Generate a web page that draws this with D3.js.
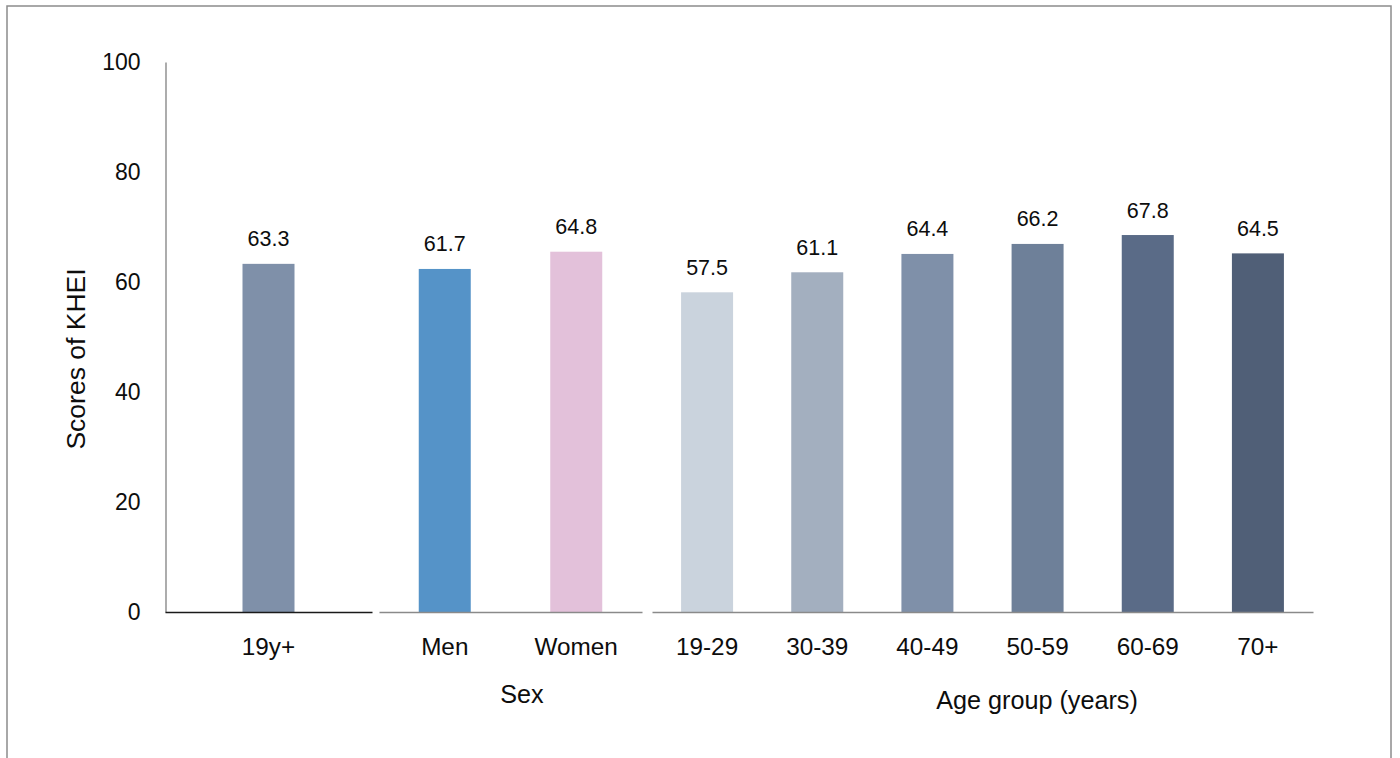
<!DOCTYPE html>
<html>
<head>
<meta charset="utf-8">
<script src="https://cdn.jsdelivr.net/npm/d3@7"></script>
<style>
  html, body { margin: 0; padding: 0; background: #fff; }
  svg { display: block; font-family: "Liberation Sans", Arial, sans-serif; }
</style>
</head>
<body>
<svg id="chart" width="1400" height="758"></svg>
<script>
// KHEI scores by population group
const overallCategories = ["19y+"];
const overallScores = [63.3];
const overallColors = ["#7f90a9"];

const sexCategories = ["Men", "Women"];
const sexScores = [61.7, 64.8];
const sexColors = ["#5593c8", "#e3c1da"];

const ageCategories = ["19-29", "30-39", "40-49", "50-59", "60-69", "70+"];
const ageScores = [57.5, 61.1, 64.4, 66.2, 67.8, 64.5];
const ageColors = ["#cad3dd", "#a3afbf", "#7f90a9", "#6e8099", "#5a6b87", "#505f77"];

const yTicks = [0, 20, 40, 60, 80, 100];

const svg = d3.select("#chart");
const baseY = 612;
const barWidth = 52;

// outer frame
svg.append("rect")
  .attr("x", 7).attr("y", 6)
  .attr("width", 1384).attr("height", 770)
  .attr("fill", "none")
  .attr("stroke", "#8c8c8c")
  .attr("stroke-width", 1.5);

// panel definitions: each group is drawn as its own small chart
const panels = [
  { cats: overallCategories, vals: overallScores, cols: overallColors,
    x0: 165, x1: 372, top: 62, axisColor: "#1a1a1a", title: null },
  { cats: sexCategories, vals: sexScores, cols: sexColors,
    x0: 379, x1: 642, top: 56, axisColor: "#8a8a8a",
    title: "Sex", titleX: 522, titleY: 694 },
  { cats: ageCategories, vals: ageScores, cols: ageColors,
    x0: 652, x1: 1313, top: 56, axisColor: "#8a8a8a",
    title: "Age group (years)", titleX: 1037, titleY: 700 }
];

// shared y axis, drawn against the first panel's scale
const yAxisScale = d3.scaleLinear().domain([0, 100]).range([baseY, 62]);
const yAxis = d3.axisLeft(yAxisScale)
  .tickValues(yTicks)
  .tickSize(0)
  .tickPadding(25)
  .tickFormat(d3.format("d"));

const yG = svg.append("g")
  .attr("transform", "translate(165.5,0)")
  .call(yAxis);
yG.select(".domain").attr("stroke", "#808080").attr("stroke-width", 1.3);
yG.selectAll("text")
  .attr("font-size", 23)
  .attr("fill", "#0d0d0d")
  .attr("font-family", "'Liberation Sans', Arial, sans-serif");

// y axis title
svg.append("text")
  .attr("transform", "translate(76,359) rotate(-90)")
  .attr("text-anchor", "middle")
  .attr("dy", "0.35em")
  .attr("font-size", 26.5)
  .attr("fill", "#0d0d0d")
  .text("Scores of KHEI");

panels.forEach(p => {
  const x = d3.scaleBand().domain(p.cats).range([p.x0, p.x1]).padding(0);
  const y = d3.scaleLinear().domain([0, 100]).range([baseY, p.top]);
  const data = p.cats.map((c, i) => ({ cat: c, val: p.vals[i], col: p.cols[i] }));
  const g = svg.append("g");

  // bars
  g.selectAll("rect.bar")
    .data(data)
    .join("rect")
    .attr("class", "bar")
    .attr("x", d => x(d.cat) + x.bandwidth() / 2 - barWidth / 2)
    .attr("y", d => y(d.val))
    .attr("width", barWidth)
    .attr("height", d => y(0) - y(d.val))
    .attr("fill", d => d.col);

  // value labels
  g.selectAll("text.val")
    .data(data)
    .join("text")
    .attr("class", "val")
    .attr("x", d => x(d.cat) + x.bandwidth() / 2)
    .attr("y", d => y(d.val) - 25)
    .attr("dy", "0.35em")
    .attr("text-anchor", "middle")
    .attr("font-size", 21.5)
    .attr("fill", "#0d0d0d")
    .text(d => d3.format(".1f")(d.val));

  // category axis
  const xAxis = d3.axisBottom(x).tickSize(0).tickPadding(26);
  const xG = g.append("g")
    .attr("transform", `translate(0,${baseY})`)
    .call(xAxis);
  xG.select(".domain").attr("stroke", p.axisColor).attr("stroke-width", 1.4);
  xG.selectAll("text")
    .attr("font-size", 24.3)
    .attr("fill", "#0d0d0d")
    .attr("font-family", "'Liberation Sans', Arial, sans-serif");

  if (p.title) {
    g.append("text")
      .attr("x", p.titleX)
      .attr("y", p.titleY)
      .attr("dy", "0.35em")
      .attr("text-anchor", "middle")
      .attr("font-size", 25.2)
      .attr("fill", "#0d0d0d")
      .text(p.title);
  }
});
</script>
</body>
</html>
